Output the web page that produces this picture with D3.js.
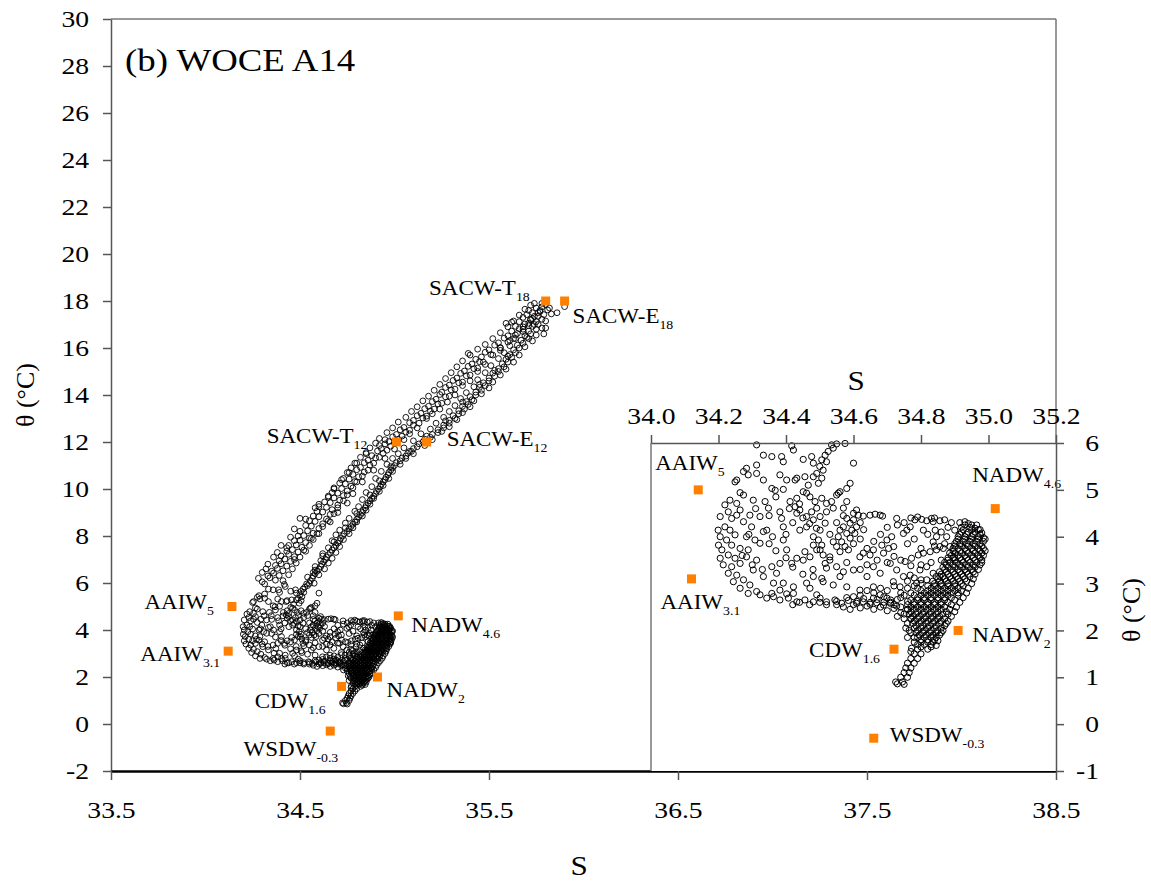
<!DOCTYPE html>
<html>
<head>
<meta charset="utf-8">
<script src="https://cdn.jsdelivr.net/npm/d3@7"></script>
<style>
body { margin: 0; background: #fff; }
text { font-family: "Liberation Serif", "Times New Roman", serif; fill: #000; }
</style>
</head>
<body>
<svg id="chart" width="1151" height="881"></svg>
<script>
// theta-S data, [S, theta]
// upper thermocline, SACW-T path (fresher band)
const bandT = [
	[35.74,17.9],[35.72,17.82],[35.75,17.7],[35.71,17.6],[35.73,17.5],[35.7,17.42],[35.68,17.3],[35.72,17.22],[35.66,17.12],[35.69,17.02],
	[35.64,16.92],[35.66,16.82],[35.62,16.72],[35.65,16.62],[35.6,16.52],[35.58,16.42],[35.61,16.32],[35.55,16.22],[35.53,16.12],[35.56,16.02],
	[35.5,15.92],[35.48,15.82],[35.51,15.72],[35.46,15.62],[35.43,15.52],[35.45,15.42],[35.41,15.32],[35.39,15.22],[35.42,15.12],[35.37,15.02],
	[35.35,14.92],[35.38,14.82],[35.33,14.72],[35.31,14.62],[35.34,14.52],[35.29,14.42],[35.27,14.32],[35.3,14.22],[35.25,14.12],[35.24,14.02],
	[35.27,13.92],[35.22,13.82],[35.2,13.72],[35.23,13.62],[35.18,13.52],[35.16,13.42],[35.19,13.32],[35.14,13.22],[35.12,13.12],[35.15,13.02],
	[35.1,12.92],[35.08,12.82],[35.1,12.72],[35.05,12.62],[35.03,12.52],[35.06,12.42],[35.01,12.32],[34.99,12.22],[35.02,12.12],[34.97,12.02],
	[34.95,11.92],[34.98,11.82],[34.93,11.72],[34.91,11.62],[34.94,11.52],[34.88,11.42],[34.9,11.32],[34.86,11.22],[34.84,11.12],[34.87,11.02],
	[34.82,10.92],[34.8,10.82],[34.84,10.72],[34.78,10.62],[34.81,10.52],[34.76,10.42],[34.79,10.32],[34.74,10.22],[34.77,10.12],[34.72,10.02],
	[34.75,9.92],[34.7,9.82],[34.73,9.72],[34.68,9.62],[34.71,9.52],[34.66,9.42],[34.7,9.32],[34.64,9.22],[34.67,9.12],[34.62,9.02],
	[34.66,8.92],[34.6,8.82],[34.64,8.72],[34.58,8.62],[34.62,8.52],[34.56,8.42],[34.6,8.32],[34.54,8.22],[34.57,8.12],[34.52,8.02],
	[34.55,7.92],[34.5,7.82],[34.53,7.72],[34.48,7.62],[34.51,7.52],[34.46,7.42],[34.49,7.32],[34.44,7.22],[34.47,7.12],[34.42,7.02],
	[34.45,6.92],[34.4,6.82],[34.43,6.72],[34.38,6.62],[34.41,6.52],[34.36,6.42],[34.39,6.32],[34.34,6.22],[34.37,6.12]
];
// fresher and saltier edges of the SACW-T band
const bandTEdges = [
	[34.3,6.05],[34.33,6.3],[34.35,6.5],[34.37,6.75],[34.39,6.95],[34.4,7.15],[34.43,7.35],[34.44,7.6],[34.47,7.8],[34.49,8.0],
	[34.5,8.2],[34.53,8.45],[34.55,8.65],[34.57,8.85],[34.59,9.05],[34.6,9.25],[34.63,9.45],[34.65,9.65],[34.67,9.85],[34.68,10.05],
	[34.71,10.25],[34.73,10.45],[34.75,10.7],[34.77,10.9],[34.79,11.1],[34.82,11.35],[34.85,11.55],[34.87,11.75],[34.9,11.95],[34.92,12.15],
	[34.96,12.4],[34.99,12.6],[35.02,12.85],[35.06,13.05],[35.09,13.3],[35.12,13.5],[35.15,13.75],[35.18,13.95],[35.21,14.2],[35.24,14.45],
	[35.27,14.7],[35.3,14.95],[35.33,15.2],[35.36,15.45],[35.4,15.7],[35.44,15.95],[35.48,16.15],[35.52,16.4],[35.56,16.65],[35.6,16.9],
	[35.63,17.15],[35.66,17.4],[35.69,17.65],
	[34.41,6.1],[34.44,6.35],[34.46,6.6],[34.48,6.85],[34.5,7.1],[34.53,7.35],[34.55,7.6],[34.57,7.85],[34.59,8.1],[34.62,8.4],
	[34.65,8.65],[34.68,8.95],[34.7,9.2],[34.73,9.5],[34.75,9.75],[34.78,10.05],[34.8,10.3],[34.83,10.55],[34.86,10.8],[34.89,11.1],
	[34.92,11.35],[34.96,11.65],[35.0,11.95],[35.04,12.25],[35.08,12.5],[35.13,12.8],[35.17,13.1],[35.21,13.4],[35.25,13.65],[35.29,13.95],
	[35.32,14.25],[35.36,14.55],[35.4,14.85],[35.44,15.15],[35.47,15.4],[35.52,15.7],[35.56,16.0],[35.6,16.25],[35.64,16.55],[35.68,16.8],
	[35.71,17.05],[35.74,17.35],[35.77,17.6]
];
// upper thermocline, SACW-E path (saltier band)
const bandE = [
	[35.8,17.85],[35.78,17.75],[35.81,17.62],[35.77,17.55],[35.79,17.42],[35.76,17.35],[35.78,17.22],[35.75,17.12],[35.76,17.0],[35.73,16.92],
	[35.75,16.8],[35.71,16.72],[35.72,16.6],[35.69,16.52],[35.71,16.4],[35.67,16.33],[35.68,16.2],[35.65,16.12],[35.66,16.0],[35.63,15.92],
	[35.64,15.8],[35.61,15.72],[35.62,15.6],[35.59,15.52],[35.6,15.4],[35.57,15.33],[35.58,15.2],[35.55,15.12],[35.55,15.0],[35.52,14.93],
	[35.53,14.8],[35.5,14.72],[35.5,14.6],[35.47,14.52],[35.48,14.4],[35.45,14.33],[35.46,14.2],[35.43,14.12],[35.43,14.0],[35.4,13.93],
	[35.41,13.8],[35.38,13.72],[35.39,13.6],[35.36,13.52],[35.37,13.4],[35.34,13.33],[35.34,13.2],[35.31,13.12],[35.32,13.0],[35.29,12.92],
	[35.29,12.8],[35.26,12.72],[35.26,12.6],[35.23,12.52],[35.23,12.4],[35.2,12.32],[35.19,12.2],[35.16,12.12],[35.15,12.0],[35.13,11.92],
	[35.12,11.8],[35.1,11.72],[35.09,11.6],[35.07,11.52],[35.06,11.4],[35.04,11.32],[35.03,11.2],[35.01,11.12],[35.0,11.0],[34.99,10.9],
	[34.98,10.8],[34.97,10.7],[34.965,10.6],[34.955,10.5],[34.95,10.4],[34.94,10.3],[34.93,10.2],[34.925,10.1],[34.915,10.0],[34.905,9.9],
	[34.9,9.8],[34.89,9.7],[34.88,9.6],[34.87,9.5],[34.86,9.4],[34.85,9.3],[34.845,9.2],[34.835,9.1],[34.83,9.0],[34.82,8.9],
	[34.81,8.8],[34.8,8.7],[34.79,8.6],[34.78,8.5],[34.77,8.4],[34.76,8.3],[34.75,8.2],[34.735,8.1],[34.725,8.0],[34.715,7.9],
	[34.71,7.8],[34.7,7.7],[34.69,7.6],[34.68,7.5],[34.67,7.4],[34.66,7.3],[34.65,7.2],[34.64,7.1],[34.635,7.0],[34.625,6.9],
	[34.615,6.8],[34.61,6.7],[34.6,6.6],[34.59,6.5],[34.58,6.4],[34.57,6.3],[34.565,6.2],[34.555,6.1],
	[35.82,17.7],[35.74,17.0],[35.7,16.45],[35.6,15.65],[35.53,15.05],[35.45,14.45],[35.36,13.7],[35.27,12.9],[35.17,12.25],[35.08,11.6],
	[34.98,10.95],[34.92,10.35],[34.87,9.75],[34.8,8.95],[34.74,8.35],[34.68,7.75],[34.62,7.15],[34.58,6.55]
];
// fresher and saltier edges of the SACW-E band
const bandEEdges = [
	[34.54,6.25],[34.57,6.45],[34.58,6.7],[34.61,6.95],[34.62,7.25],[34.65,7.5],[34.67,7.8],[34.69,8.05],[34.71,8.25],[34.74,8.55],
	[34.76,8.75],[34.79,9.05],[34.81,9.25],[34.83,9.55],[34.85,9.85],[34.88,10.1],[34.9,10.45],[34.93,10.75],[34.96,11.05],[34.99,11.3],
	[35.02,11.5],[35.05,11.75],[35.1,12.05],[35.14,12.35],[35.19,12.55],[35.22,12.8],[35.26,13.05],[35.29,13.3],[35.32,13.55],[35.35,13.85],
	[35.38,14.1],[35.42,14.35],[35.44,14.65],[35.48,14.95],[35.51,15.25],[35.55,15.55],[35.58,15.8],[35.61,16.1],[35.64,16.4],[35.68,16.7],
	[35.71,16.95],[35.73,17.25],[35.76,17.5],[35.78,17.9],
	[34.6,6.35],[34.63,6.6],[34.65,6.85],[34.67,7.05],[34.69,7.3],[34.71,7.55],[34.73,7.85],[34.76,8.1],[34.78,8.35],[34.8,8.6],
	[34.83,8.85],[34.85,9.1],[34.87,9.35],[34.89,9.6],[34.92,9.9],[34.94,10.15],[34.97,10.45],[34.99,10.75],[35.03,11.05],[35.06,11.3],
	[35.1,11.5],[35.16,11.85],[35.2,12.1],[35.25,12.45],[35.29,12.65],[35.33,12.95],[35.36,13.25],[35.4,13.5],[35.42,13.75],[35.46,14.05],
	[35.5,14.3],[35.52,14.55],[35.56,14.85],[35.59,15.1],[35.63,15.4],[35.66,15.7],[35.69,16.05],[35.73,16.3],[35.75,16.55],[35.78,16.85],
	[35.8,17.15],[35.83,17.45]
];
// scattered points around the two thermocline bands
const bandScatter = [
	[35.9,17.76],[35.86,17.5],[35.79,16.6],[35.8,16.85],[35.59,17.05],[35.62,17.1],[35.39,15.77],[35.44,15.0],[35.36,14.4],[35.28,13.7],
	[35.2,13.2],[35.08,12.35],[34.95,12.1],[34.92,11.85],[34.85,11.5],[34.8,11.1],[34.76,10.7],[34.72,10.4],[34.68,10.0],[34.65,9.7],
	[34.6,9.35],[34.58,9.2],[34.53,8.72],[34.5,8.75],[34.47,8.3],[34.45,7.95],[34.43,7.5],[34.4,7.6],[34.38,7.3],[34.36,7.1],
	[34.33,6.8],[34.3,6.45],[34.28,6.2],[34.32,6.6],[34.47,7.0],[34.52,7.4],[34.56,7.9],[34.6,8.1],[34.66,8.6],[34.7,9.0],
	[34.75,9.4],[34.78,9.8],[34.83,10.3],[34.89,10.8],[34.95,11.3],[35.0,11.7],[35.05,12.1],[35.12,12.6],[35.17,13.0],[35.24,13.4],
	[35.32,14.0],[35.4,14.6],[35.48,15.3],[35.56,15.9],[35.63,16.4],[35.68,16.9],[35.72,17.2]
];
// intermediate layer, 5-6 degC
const upperIntermediate = [
	[34.313,5.96],[34.417,5.94],[34.422,5.85],[34.333,5.74],[34.358,5.71],[34.387,5.71],[34.392,5.6],[34.451,5.65],[34.476,5.71],[34.481,5.57],
	[34.313,5.53],[34.283,5.46],[34.274,5.39],[34.288,5.32],[34.254,5.21],[34.249,5.17],[34.333,5.21],[34.313,5.35],[34.382,5.32],[34.402,5.21],
	[34.432,5.25],[34.456,5.28],[34.466,5.1],[34.358,5.03],[34.392,5.01],[34.368,4.99],
	[34.575,5.99],[34.55,5.98],[34.535,5.96],[34.54,5.89],[34.525,5.82],[34.516,5.74],[34.506,5.64],[34.52,5.6],[34.5,5.5],[34.51,5.42],
	[34.491,5.35],[34.481,5.28],[34.506,5.25],[34.496,5.14],[34.6,5.57],[34.59,5.14],[34.58,5.03],[34.56,4.96],[34.55,4.89]
];
// AAIW arc on the fresh side
const aaiwArc = [
	[34.264,4.94],[34.234,4.78],[34.219,4.68],[34.254,4.71],[34.229,4.53],[34.205,4.43],[34.239,4.39],[34.254,4.46],[34.219,4.21],[34.199,4.14],
	[34.234,4.14],[34.205,4.0],[34.249,4.04],[34.224,3.93],[34.2,3.82],[34.239,3.82],[34.21,3.72],[34.264,3.75],[34.229,3.61],[34.205,3.54],
	[34.249,3.54],[34.214,3.4],[34.239,3.36],[34.264,3.43],[34.229,3.22],[34.254,3.18],[34.244,3.04],[34.274,3.08],[34.264,2.9],[34.293,2.97],
	[34.288,2.79],[34.313,2.83],
	[34.274,4.89],[34.303,4.78],[34.264,4.57],[34.293,4.46],[34.274,4.32],[34.298,4.21],[34.283,4.0],[34.308,3.93],[34.333,4.11],[34.343,4.14],
	[34.338,4.75],[34.348,4.61],[34.323,4.43],[34.382,4.53],[34.387,4.39],[34.392,4.21],[34.288,3.72],[34.323,3.86],[34.283,3.57],[34.313,3.5],
	[34.303,3.29],[34.333,3.15],[34.363,3.01],[34.372,3.22],[34.358,3.36],[34.382,3.43],[34.392,3.93],[34.402,3.72],[34.432,3.54],[34.417,3.43],
	[34.451,3.5]
];
// mixing streaks in the middle of the diagram
const midStreaks = [
	[34.427,5.21],[34.451,4.96],[34.461,4.93],[34.471,4.85],[34.486,4.75],[34.491,4.61],[34.476,4.53],[34.461,4.43],[34.432,4.5],[34.441,4.57],
	[34.506,4.82],[34.52,4.71],[34.535,4.75],[34.54,4.61],[34.52,4.53],[34.501,4.43],[34.481,4.36],[34.461,4.21],[34.441,4.14],[34.555,4.93],
	[34.58,4.75],[34.57,4.61],[34.516,4.29],[34.501,4.14],[34.481,4.0],[34.432,4.82],[34.412,4.75],[34.427,4.64],
	[34.496,3.93],[34.506,3.82],[34.501,3.72],[34.51,3.61],[34.516,3.43],[34.52,3.33],[34.481,3.82],[34.456,3.68],[34.471,3.57],[34.491,3.72],
	[34.58,4.39],[34.6,4.36],[34.59,4.29],[34.57,4.21],[34.56,4.14],[34.609,4.21],[34.595,4.14],[34.58,4.07],[34.555,4.0],[34.54,3.89],
	[34.565,3.89],[34.59,3.97],[34.604,4.07],[34.55,3.79],[34.575,3.79],[34.56,3.68],[34.585,3.72],[34.53,3.57],
	[34.609,4.57],[34.614,4.46],[34.629,4.44],[34.649,4.46],[34.664,4.48],[34.679,4.46],[34.686,4.44],[34.728,4.39],
	[34.782,4.36],[34.802,4.37],[34.817,4.34],[34.831,4.39],[34.836,4.32],[34.856,4.34],[34.758,4.14],[34.768,4.21],[34.748,4.07],[34.807,4.14],
	[34.842,4.14],[34.846,4.0],[34.836,3.89],[34.876,4.0],[34.856,3.79],[34.9,4.14],
	[34.619,3.57],[34.629,3.65],[34.649,3.61],[34.659,3.72],[34.684,3.82],[34.699,3.93],[34.713,4.0],[34.704,3.75],[34.719,3.79],[34.689,3.65],
	[34.792,3.61],[34.807,3.65],[34.827,3.68],[34.846,3.72],[34.866,3.75],[34.886,3.79],[34.772,3.54],[34.753,3.47]
];
// more points between the streaks
const midExtra = [
	[34.44,4.7],[34.45,4.4],[34.47,4.28],[34.49,4.18],[34.53,4.05],[34.55,4.3],[34.57,4.45],[34.6,4.5],[34.62,4.3],[34.63,4.15],
	[34.62,3.95],[34.6,3.85],[34.64,3.75],[34.66,3.9],[34.68,4.05],[34.7,4.2],[34.73,4.25],[34.75,4.3],[34.77,4.4],[34.79,4.42],
	[34.84,4.4],[34.87,4.36],[34.89,4.3],[34.88,4.2],[34.86,4.1],[34.82,4.05],[34.78,3.95],[34.76,3.85],[34.8,3.75],[34.84,3.8],
	[34.87,3.85],[34.9,3.55],[34.86,3.5],[34.83,3.45],[34.8,3.4],[34.77,3.38],[34.74,3.5],[34.72,3.58],[34.7,3.45],[34.67,3.5],
	[34.64,3.4],[34.62,3.3],[34.58,3.45],[34.53,3.5],[34.48,3.3],[34.45,3.2],[34.42,3.35],[34.4,3.55],[34.37,3.7],[34.35,3.85],
	[34.36,4.0],[34.4,4.05],[34.42,4.3],[34.41,4.6],[34.37,4.85],[34.35,4.45],[34.31,4.6],[34.29,4.05],[34.3,3.4],[34.33,3.3],
	[34.27,3.6]
];
// scattered points 2.8-3.5 degC
const midScatter = [
	[34.55,3.36],[34.57,3.25],[34.6,3.29],[34.64,3.15],[34.659,3.36],[34.679,3.22],[34.709,3.43],[34.728,3.29],[34.748,3.15],[34.768,3.18],
	[34.797,3.29],[34.817,3.36],[34.836,3.22],[34.856,3.15],[34.817,3.08],[34.787,3.01],[34.738,2.93],[34.718,3.04],[34.659,2.93],[34.619,2.86],
	[34.58,2.93],[34.54,2.97],[34.506,3.11],[34.51,3.04],[34.481,3.15],[34.461,3.01],[34.422,2.93],[34.392,3.01],[34.382,2.86],[34.422,2.79],
	[34.471,2.9],[34.56,3.15]
];
// floor of the arc, about 2.5 degC
const arcFloor = [
	[34.323,2.76],[34.343,2.69],[34.363,2.72],[34.382,2.65],[34.407,2.69],[34.432,2.61],[34.456,2.65],[34.481,2.61],[34.501,2.69],[34.52,2.61],
	[34.545,2.65],[34.565,2.58],[34.585,2.64],[34.609,2.58],[34.629,2.61],[34.649,2.56],[34.669,2.59],[34.689,2.54],[34.709,2.58],[34.728,2.52],
	[34.358,2.79],[34.402,2.78],[34.491,2.76],[34.6,2.72],[34.659,2.69],[34.699,2.69],[34.679,2.76],
	[34.6,2.55],[34.62,2.48],[34.64,2.52],[34.66,2.45],[34.68,2.5],[34.7,2.42],[34.72,2.47],[34.74,2.38],[34.73,2.3],[34.75,2.25],
	[34.76,2.15],[34.755,2.05],[34.77,1.95],[34.76,1.85],[34.78,1.75],[34.69,2.6],[34.71,2.65],[34.74,2.7],[34.76,2.62],[34.77,2.8],
	[34.79,2.9],[34.8,3.0],[34.55,2.55],[34.57,2.5],
	[34.61,2.62],[34.63,2.68],[34.65,2.6],[34.67,2.66],[34.69,2.72],[34.71,2.6],[34.73,2.66],[34.75,2.75],[34.62,2.75],[34.66,2.8],
	[34.7,2.85],[34.74,2.8],[34.76,2.9],[34.72,2.95],[34.68,2.9],[34.64,2.85],[34.78,2.95],[34.8,3.08],[34.78,3.12],[34.76,3.05],
	[34.74,2.5],[34.72,2.55],[34.76,2.45],[34.75,2.35],[34.77,2.25],[34.765,2.0],[34.78,1.85],[34.79,1.7],[34.55,2.62],[34.52,2.55],
	[34.5,2.6],[34.47,2.55],[34.44,2.6],[34.42,2.55],[34.59,2.45],[34.58,2.7]
];
// deep water, NADW core and the tail down to 0.9 degC
const deepCore = [
	[34.915,4.3],[34.93,4.32],[34.94,4.28],
	[34.92,4.2],[34.945,4.2],[34.96,4.18],[34.975,4.15],
	[34.92,4.1],[34.94,4.1],[34.96,4.1],[34.98,4.08],
	[34.91,4.0],[34.93,4.0],[34.95,4.0],[34.97,4.0],[34.985,3.98],
	[34.905,3.9],[34.925,3.9],[34.945,3.9],[34.965,3.9],[34.985,3.9],
	[34.9,3.8],[34.92,3.8],[34.94,3.8],[34.96,3.8],[34.98,3.8],
	[34.895,3.7],[34.915,3.7],[34.935,3.7],[34.955,3.7],[34.975,3.7],[34.99,3.7],
	[34.89,3.6],[34.91,3.6],[34.93,3.6],[34.95,3.6],[34.97,3.6],[34.985,3.6],
	[34.88,3.5],[34.9,3.5],[34.92,3.5],[34.94,3.5],[34.96,3.5],[34.98,3.5],
	[34.875,3.4],[34.895,3.4],[34.915,3.4],[34.935,3.4],[34.955,3.4],[34.975,3.4],
	[34.87,3.3],[34.89,3.3],[34.91,3.3],[34.93,3.3],[34.95,3.3],[34.97,3.3],
	[34.86,3.2],[34.88,3.2],[34.9,3.2],[34.92,3.2],[34.94,3.2],[34.96,3.2],
	[34.85,3.1],[34.87,3.1],[34.89,3.1],[34.91,3.1],[34.93,3.1],[34.955,3.1],
	[34.84,3.0],[34.86,3.0],[34.88,3.0],[34.9,3.0],[34.92,3.0],[34.95,3.0],
	[34.83,2.9],[34.85,2.9],[34.87,2.9],[34.89,2.9],[34.91,2.9],[34.94,2.9],
	[34.81,2.8],[34.83,2.8],[34.85,2.8],[34.87,2.8],[34.89,2.8],[34.91,2.8],[34.935,2.8],
	[34.79,2.7],[34.81,2.7],[34.83,2.7],[34.85,2.7],[34.87,2.7],[34.89,2.7],[34.925,2.7],
	[34.78,2.6],[34.8,2.6],[34.82,2.6],[34.84,2.6],[34.86,2.6],[34.88,2.6],[34.915,2.6],
	[34.77,2.5],[34.79,2.5],[34.81,2.5],[34.83,2.5],[34.85,2.5],[34.87,2.5],[34.905,2.5],
	[34.77,2.4],[34.79,2.4],[34.81,2.4],[34.83,2.4],[34.85,2.4],[34.875,2.4],[34.9,2.4],
	[34.775,2.3],[34.795,2.3],[34.815,2.3],[34.835,2.3],[34.855,2.3],[34.89,2.3],
	[34.78,2.2],[34.8,2.2],[34.82,2.2],[34.84,2.2],[34.86,2.2],[34.88,2.2],
	[34.785,2.1],[34.805,2.1],[34.825,2.1],[34.845,2.1],[34.87,2.1],
	[34.79,2.0],[34.81,2.0],[34.83,2.0],[34.85,2.0],[34.865,2.0],
	[34.795,1.9],[34.815,1.9],[34.835,1.9],[34.855,1.9],
	[34.8,1.8],[34.82,1.8],[34.84,1.8],[34.85,1.78],
	[34.81,1.7],[34.83,1.7],[34.845,1.68],
	[34.79,1.6],[34.82,1.6],[34.772,1.62],
	[34.78,1.5],[34.8,1.5],[34.77,1.55],
	[34.77,1.4],[34.79,1.4],
	[34.76,1.3],[34.78,1.3],
	[34.755,1.2],[34.77,1.2],
	[34.75,1.1],[34.765,1.1],
	[34.74,1.0],[34.76,1.0],
	[34.725,0.9],[34.745,0.9],[34.73,0.86],[34.75,0.85]
];
// second set of deep points, between the first ones
const deepCoreFill = [
	[34.93,4.25],[34.95,4.25],[34.965,4.25],
	[34.925,4.15],[34.95,4.15],[34.97,4.15],
	[34.915,4.05],[34.935,4.05],[34.955,4.05],[34.975,4.05],
	[34.91,3.95],[34.93,3.95],[34.95,3.95],[34.97,3.95],[34.99,3.95],
	[34.9,3.85],[34.915,3.85],[34.935,3.85],[34.955,3.85],[34.975,3.85],
	[34.895,3.75],[34.91,3.75],[34.93,3.75],[34.95,3.75],[34.97,3.75],[34.985,3.75],
	[34.885,3.65],[34.9,3.65],[34.92,3.65],[34.94,3.65],[34.96,3.65],[34.98,3.65],
	[34.88,3.55],[34.895,3.55],[34.915,3.55],[34.935,3.55],[34.955,3.55],[34.975,3.55],
	[34.87,3.45],[34.885,3.45],[34.905,3.45],[34.925,3.45],[34.945,3.45],[34.965,3.45],[34.98,3.45],
	[34.865,3.35],[34.88,3.35],[34.9,3.35],[34.92,3.35],[34.94,3.35],[34.96,3.35],
	[34.855,3.25],[34.875,3.25],[34.895,3.25],[34.915,3.25],[34.935,3.25],[34.955,3.25],
	[34.845,3.15],[34.865,3.15],[34.885,3.15],[34.905,3.15],[34.925,3.15],[34.945,3.15],
	[34.835,3.05],[34.855,3.05],[34.875,3.05],[34.895,3.05],[34.915,3.05],[34.935,3.05],
	[34.82,2.95],[34.84,2.95],[34.86,2.95],[34.88,2.95],[34.9,2.95],[34.925,2.95],
	[34.8,2.85],[34.82,2.85],[34.84,2.85],[34.86,2.85],[34.88,2.85],[34.9,2.85],[34.92,2.85],
	[34.78,2.75],[34.8,2.75],[34.82,2.75],[34.84,2.75],[34.86,2.75],[34.88,2.75],[34.91,2.75],
	[34.77,2.65],[34.79,2.65],[34.81,2.65],[34.83,2.65],[34.85,2.65],[34.87,2.65],[34.9,2.65],
	[34.76,2.55],[34.78,2.55],[34.8,2.55],[34.82,2.55],[34.84,2.55],[34.86,2.55],[34.89,2.55],
	[34.76,2.45],[34.78,2.45],[34.8,2.45],[34.82,2.45],[34.84,2.45],[34.86,2.45],[34.885,2.45],
	[34.765,2.35],[34.785,2.35],[34.805,2.35],[34.825,2.35],[34.845,2.35],[34.865,2.35],[34.88,2.35],
	[34.77,2.25],[34.79,2.25],[34.81,2.25],[34.83,2.25],[34.85,2.25],[34.87,2.25],
	[34.775,2.15],[34.795,2.15],[34.815,2.15],[34.835,2.15],[34.855,2.15],[34.875,2.15],
	[34.78,2.05],[34.8,2.05],[34.82,2.05],[34.84,2.05],[34.86,2.05],
	[34.785,1.95],[34.805,1.95],[34.825,1.95],[34.845,1.95],[34.86,1.95],
	[34.79,1.85],[34.81,1.85],[34.83,1.85],[34.845,1.85],
	[34.8,1.75],[34.82,1.75],[34.835,1.75],
	[34.8,1.65],[34.83,1.65]
];

const allPoints = [].concat(bandT, bandTEdges, bandE, bandEEdges, bandScatter, upperIntermediate,
	aaiwArc, midStreaks, midExtra, midScatter, arcFloor, deepCore, deepCoreFill);

// water mass end members
const massNames = ["SACW-T", "SACW-E", "SACW-T", "SACW-E", "AAIW", "AAIW", "NADW", "NADW", "CDW", "WSDW"];
const massSubs = ["18", "18", "12", "12", "5", "3.1", "4.6", "2", "1.6", "-0.3"];
const massS = [35.8, 35.9, 35.01, 35.17, 34.14, 34.12, 35.02, 34.91, 34.72, 34.66];
const massTheta = [18, 18, 12, 12, 5, 3.1, 4.6, 2, 1.6, -0.3];

// axis ticks
const mainXTicks = [33.5, 34.5, 35.5, 36.5, 37.5, 38.5];
const mainYTicks = [-2, 0, 2, 4, 6, 8, 10, 12, 14, 16, 18, 20, 22, 24, 26, 28, 30];
const insetXTicks = [34.0, 34.2, 34.4, 34.6, 34.8, 35.0, 35.2];
const insetYTicks = [-1, 0, 1, 2, 3, 4, 5, 6];

// label placement, offset from the square: [dx, dy, anchor]
const MAIN_LABEL_POS = [
	[-16, -6, "end"], [8, 22, "start"], [-29, 1, "end"], [20, 4, "start"],
	[-18, 2, "end"], [-8, 10, "end"], [13, 16, "start"], [9, 20, "start"],
	[-16, 22, "end"], [8, 25, "end"]
];
const INSET_LABEL_POS = {
	4: [-43, -20, "start"], 5: [-31, 30, "start"], 6: [-23, -27, "start"],
	7: [14, 12, "start"], 8: [-14, 8, "end"], 9: [16, 4, "start"]
};

const SX = 1.15;
const ORANGE = "#ff8000";
const AXIS_GREY = "#555";

const svg = d3.select("#chart");

const xMain = d3.scaleLinear().domain([33.5, 38.5]).range([111, 1056]);
const yMain = d3.scaleLinear().domain([-2, 30]).range([771, 19]);
const xIn = d3.scaleLinear().domain([34.0, 35.2]).range([651, 1056]);
const yIn = d3.scaleLinear().domain([-1, 6]).range([771, 443]);

function stretch(sel, sx) {
	sel.each(function() {
		const t = d3.select(this);
		const x = +t.attr("x") || 0;
		t.attr("x", x / sx).attr("transform", `scale(${sx},1)`);
	});
}

function styleAxis(g, size) {
	g.attr("font-family", "Liberation Serif, Times New Roman, serif")
		.attr("font-size", size);
	g.select(".domain").attr("stroke", AXIS_GREY).attr("stroke-width", 1.5);
	g.selectAll(".tick line").attr("stroke", AXIS_GREY).attr("stroke-width", 1.5);
	g.selectAll(".tick text").attr("fill", "#000");
	stretch(g.selectAll(".tick text"), SX);
}

function drawLabel(g, x, y, anchor, name, sub, size, subSize) {
	const t = g.append("text")
		.attr("transform", `translate(${x},${y}) scale(${SX},1)`)
		.attr("text-anchor", anchor)
		.attr("font-size", size);
	t.append("tspan").text(name);
	t.append("tspan").attr("font-size", subSize).attr("dy", 6).text(sub);
}

// MAIN PLOT
// =========
const gMain = svg.append("g");

// frame top + right
gMain.append("line")
	.attr("x1", xMain(33.5)).attr("x2", xMain(38.5))
	.attr("y1", yMain(30)).attr("y2", yMain(30))
	.attr("stroke", "#777").attr("stroke-width", 1.5);
gMain.append("line")
	.attr("x1", xMain(38.5)).attr("x2", xMain(38.5))
	.attr("y1", yMain(30)).attr("y2", yIn(6))
	.attr("stroke", "#777").attr("stroke-width", 1.5);

const yAxisMain = gMain.append("g")
	.attr("transform", `translate(${xMain(33.5)},0)`)
	.call(d3.axisLeft(yMain).tickValues(mainYTicks).tickSize(8).tickSizeOuter(0)
		.tickPadding(14).tickFormat(d => String(d)));
styleAxis(yAxisMain, 24);

const xAxisMain = gMain.append("g")
	.attr("transform", `translate(0,${yMain(-2)})`)
	.call(d3.axisBottom(xMain).tickValues(mainXTicks).tickSize(9).tickSizeOuter(0)
		.tickPadding(21).tickFormat(d3.format(".1f")));
styleAxis(xAxisMain, 24);
xAxisMain.select(".domain").attr("stroke", "#000").attr("stroke-width", 2.5);

gMain.append("g")
	.selectAll("circle")
	.data(allPoints)
	.join("circle")
	.attr("cx", d => xMain(d[0]))
	.attr("cy", d => yMain(d[1]))
	.attr("r", 2.9)
	.attr("fill", "none")
	.attr("stroke", "#000")
	.attr("stroke-width", 0.9);

gMain.append("g")
	.selectAll("rect")
	.data(massS.map((s, i) => i))
	.join("rect")
	.attr("x", i => xMain(massS[i]) - 4.5)
	.attr("y", i => yMain(massTheta[i]) - 4.5)
	.attr("width", 9)
	.attr("height", 9)
	.attr("fill", ORANGE);

massNames.forEach((name, i) => {
	const p = MAIN_LABEL_POS[i];
	drawLabel(gMain, xMain(massS[i]) + p[0], yMain(massTheta[i]) + p[1], p[2], name, massSubs[i], 20, 12);
});

gMain.append("text")
	.attr("transform", `translate(125,71) scale(${SX},1)`)
	.attr("font-size", 32)
	.text("(b) WOCE A14");

gMain.append("text")
	.attr("transform", "translate(34,395) rotate(-90)")
	.attr("text-anchor", "middle")
	.attr("font-size", 26)
	.text("θ (°C)");

gMain.append("text")
	.attr("transform", `translate(579,875) scale(${SX},1)`)
	.attr("text-anchor", "middle")
	.attr("font-size", 27)
	.text("S");

// INSET
// =====
const gIn = svg.append("g");

gIn.append("rect")
	.attr("x", xIn(34.0)).attr("y", yIn(6))
	.attr("width", xIn(35.2) - xIn(34.0))
	.attr("height", yIn(-1) - yIn(6))
	.attr("fill", "#fff");

gIn.append("line")
	.attr("x1", xIn(34.0)).attr("x2", xIn(34.0))
	.attr("y1", yIn(6)).attr("y2", yIn(-1))
	.attr("stroke", "#777").attr("stroke-width", 1.5);

const insetPoints = allPoints.filter(d => d[1] <= 6 && d[0] >= 34.0 && d[0] <= 35.2);

gIn.append("g")
	.selectAll("circle")
	.data(insetPoints)
	.join("circle")
	.attr("cx", d => xIn(d[0]))
	.attr("cy", d => yIn(d[1]))
	.attr("r", 3.1)
	.attr("fill", "none")
	.attr("stroke", "#000")
	.attr("stroke-width", 1);

const insetMasses = massS.map((s, i) => i).filter(i => massTheta[i] <= 6);

gIn.append("g")
	.selectAll("rect")
	.data(insetMasses)
	.join("rect")
	.attr("x", i => xIn(massS[i]) - 4.5)
	.attr("y", i => yIn(massTheta[i]) - 4.5)
	.attr("width", 9)
	.attr("height", 9)
	.attr("fill", ORANGE);

insetMasses.forEach(i => {
	const p = INSET_LABEL_POS[i];
	drawLabel(gIn, xIn(massS[i]) + p[0], yIn(massTheta[i]) + p[1], p[2], massNames[i], massSubs[i], 20, 12);
});

const xAxisIn = gIn.append("g")
	.attr("transform", `translate(0,${yIn(6)})`)
	.call(d3.axisTop(xIn).tickValues(insetXTicks).tickSize(8).tickSizeOuter(0)
		.tickPadding(11).tickFormat(d3.format(".1f")));
styleAxis(xAxisIn, 24);

const yAxisIn = gIn.append("g")
	.attr("transform", `translate(${xIn(35.2)},0)`)
	.call(d3.axisRight(yIn).tickValues(insetYTicks).tickSize(8).tickSizeOuter(0)
		.tickFormat(d => String(d)));
yAxisIn.selectAll(".tick text").attr("text-anchor", "end").attr("x", 43);
styleAxis(yAxisIn, 24);

gIn.append("text")
	.attr("transform", `translate(856,390) scale(${SX},1)`)
	.attr("text-anchor", "middle")
	.attr("font-size", 27)
	.text("S");

gIn.append("text")
	.attr("transform", "translate(1140,610) rotate(-90)")
	.attr("text-anchor", "middle")
	.attr("font-size", 26)
	.text("θ (°C)");
</script>
</body>
</html>
